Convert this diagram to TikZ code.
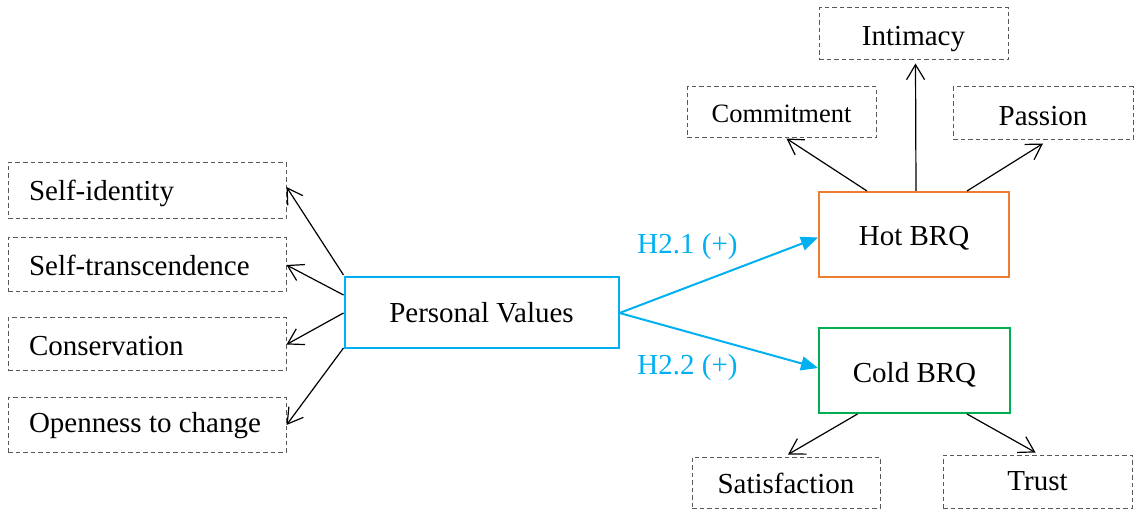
\documentclass[tikz,border=0pt]{standalone}
\usepackage{fontspec}
\setmainfont{Liberation Serif}
\usetikzlibrary{arrows.meta,positioning,calc}
\definecolor{pvblue}{HTML}{00B0F0}
\definecolor{hotorange}{HTML}{ED7D31}
\definecolor{coldgreen}{HTML}{00B050}
\newcommand{\lowr}[2]{\raisebox{-#1pt}[\height][\depth]{#2}}
\newcommand{\lefttext}[1]{\makebox[236pt][l]{#1}}
\tikzset{
  dbox/.style={draw=black!65, dash pattern=on 4.5pt off 3pt, line width=1pt, inner sep=0pt, align=center, font=\fontsize{29}{34}\selectfont},
  lbox/.style={dbox, minimum width=278pt, inner xsep=21pt},
  solidbox/.style={line width=2pt, inner sep=0pt, align=center, font=\fontsize{29}{34}\selectfont},
  barb/.style={line width=1.2pt, -{Straight Barb[length=15pt,width=18pt,line width=1.2pt]}},
  bluearrow/.style={draw=pvblue, line width=2pt, -{Triangle[length=17pt,width=14pt]}},
  blab/.style={text=pvblue, inner sep=0pt, anchor=base, font=\fontsize{29}{34}\selectfont}
}
\begin{document}
\begin{tikzpicture}[x=1pt,y=-1pt]
\useasboundingbox (0,0) rectangle (1135,510);
% left boxes
\node[lbox, minimum height=56pt] (si) at (147,191) {\lowr{2}{\lefttext{Self-identity}}};
\node[lbox, minimum height=54pt] (st) at (147,265) {\lefttext{Self-transcendence}};
\node[lbox, minimum height=53pt] (co) at (147,344.5) {\lowr{2}{\lefttext{Conservation}}};
\node[lbox, minimum height=54pt] (op) at (147,425) {\lowr{1}{\lefttext{Openness to change}}};
% central
\node[solidbox, draw=pvblue, minimum width=274pt, minimum height=71pt] (pv) at (481.5,313) {Personal Values};
\node[solidbox, draw=hotorange, minimum width=190pt, minimum height=85pt] (hot) at (914,234.5) {\lowr{4}{Hot BRQ}};
\node[solidbox, draw=coldgreen, minimum width=191pt, minimum height=85pt] (cold) at (914.5,370.5) {\lowr{4}{Cold BRQ}};
% top boxes
\node[dbox, minimum width=189pt, minimum height=52pt] (intim) at (913.5,34) {\lowr{5}{Intimacy}};
\node[dbox, minimum width=189pt, minimum height=51pt, font=\fontsize{26.5}{31}\selectfont] (comm) at (781.5,112.5) {\lowr{1}{Commitment}};
\node[dbox, minimum width=180pt, minimum height=53pt] (pass) at (1043,113.5) {\lowr{3}{Passion}};
% bottom boxes
\node[dbox, minimum width=188pt, minimum height=51pt] (sat) at (786,482.5) {\lowr{1}{Satisfaction}};
\node[dbox, minimum width=189pt, minimum height=53pt] (trust) at (1037.5,481.5) {Trust};
% left arrows
\draw[barb] ([yshift=38pt]pv.west) -- ([yshift=4pt]si.east);
\draw[barb] ([yshift=18pt]pv.west) -- (st.east);
\draw[barb] (pv.west) -- (co.east);
\draw[barb] ([yshift=-35pt]pv.west) -- (op.east);
% hot arrows
\draw[barb] ([xshift=-47pt]hot.north) -- ([xshift=5pt]comm.south);
\draw[barb] ([xshift=2pt]hot.north) -- ([xshift=2pt,yshift=-3pt]intim.south);
\draw[barb] ([xshift=53pt]hot.north) -- ([yshift=-3pt]pass.south);
% cold arrows
\draw[barb] ([xshift=-57pt]cold.south) -- ([xshift=2pt,yshift=2pt]sat.north);
\draw[barb] ([xshift=52.5pt]cold.south) -- ([xshift=-2pt,yshift=2pt]trust.north);
% blue arrows
\draw[bluearrow] (pv.east) -- ([yshift=-3pt]hot.west);
\draw[bluearrow] (pv.east) -- ([yshift=2.5pt]cold.west);
\node[blab] (h21) at (687.5,254) {H2.1 (+)};
\node[blab] (h22) at (687.5,375) {H2.2 (+)};
\end{tikzpicture}
\end{document}
